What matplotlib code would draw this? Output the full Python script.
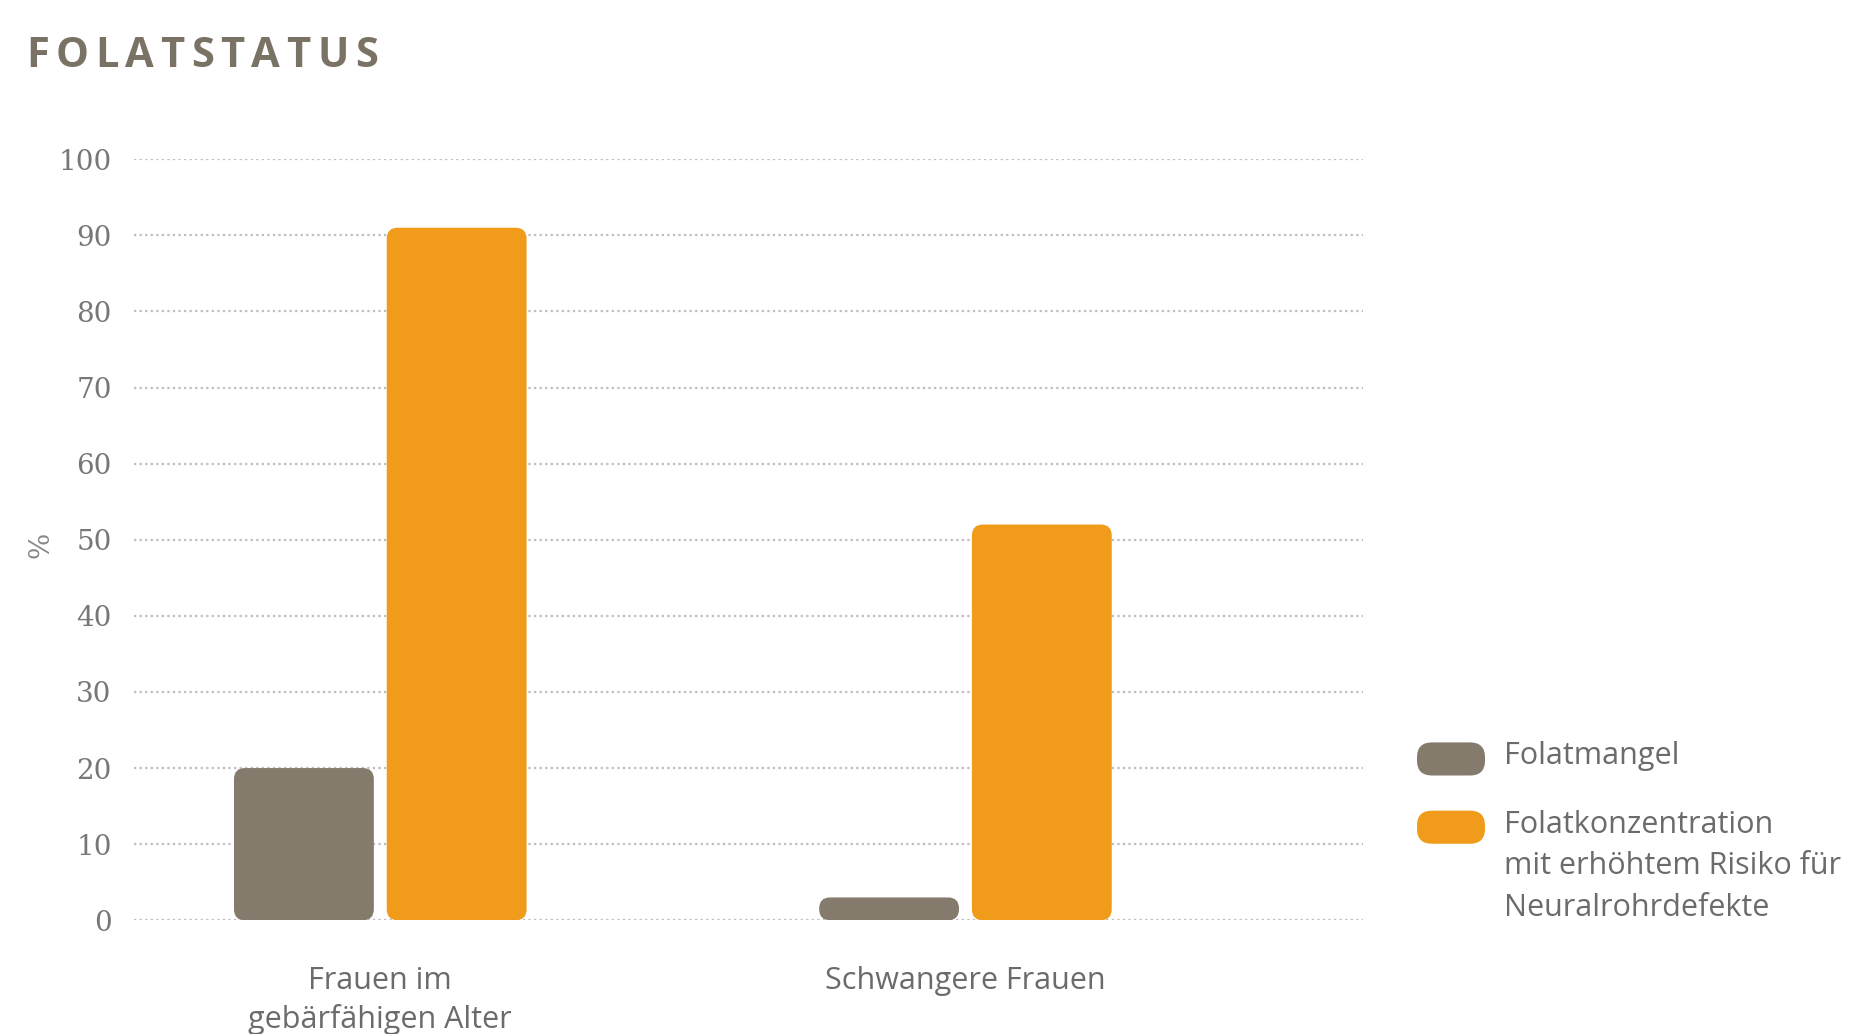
import matplotlib
matplotlib.use("Agg")
import matplotlib.pyplot as plt
from matplotlib.patches import FancyBboxPatch
import numpy as np

# data
groups = ["Frauen im\ngebärfähigen Alter", "Schwangere Frauen"]
folatmangel = [20, 3]
risiko = [91, 52]
series_names = ["Folatmangel", "Folatkonzentration\nmit erhöhtem Risiko für\nNeuralrohrdefekte"]
yticks = list(range(0, 101, 10))

grey = "#857b6c"
orange = "#f09c1a"
text_col = "#6b6b6b"

fig = plt.figure(figsize=(18.6, 10.34), dpi=100)
ax = fig.add_axes([0.072, 0.110, 0.661, 0.736])

x = np.arange(len(groups))
w = 0.239
off = 0.1305

# px per unit, used to keep the corners round
px_x = 0.661 * 1860 / (1.68 + 0.421)
px_y = 0.736 * 1034 / 100
r = 11 / px_x
aspect = (11 / px_y) / r

for vals, dx, col in [(folatmangel, -off, grey), (risiko, off, orange)]:
    bars = ax.bar(x + dx, vals, w, color=col)
    for b in bars:
        b.set_visible(False)
        p = FancyBboxPatch((b.get_x(), b.get_y()), b.get_width(), b.get_height(),
                           boxstyle="round,pad=0,rounding_size=%f" % r,
                           mutation_aspect=aspect, fc=col, ec="none", zorder=3)
        ax.add_patch(p)

ax.set_xlim(-0.421, 1.68)
ax.set_ylim(0, 100)
ax.set_yticks(yticks)
ax.yaxis.grid(True, linestyle=(0, (1, 1.5)), color="#bdbdbd", linewidth=1.6, zorder=0)
ax.set_axisbelow(True)
for s in ax.spines.values():
    s.set_visible(False)
ax.tick_params(axis="y", length=0, pad=16, labelsize=20, labelcolor="#777777")
for lbl in ax.get_yticklabels():
    lbl.set_family("DejaVu Serif")
ax.set_xticks(x)
ax.set_xticklabels(groups, fontsize=22, color=text_col, family="Open Sans", linespacing=1.35)
ax.tick_params(axis="x", length=0, pad=33)

fig.text(0.022, 0.473, "%", rotation=90, fontsize=20, color="#888888",
         family="DejaVu Serif", ha="center", va="center")

# title with letter spacing, one letter at a time
title = "FOLATSTATUS"
renderer = fig.canvas.get_renderer()
xpos = 26
for ch in title:
    t = fig.text(xpos / 1860, 0.945, ch, fontsize=30, fontweight="bold",
                 color="#7a7264", family="Open Sans", ha="left", va="center")
    xpos += t.get_window_extent(renderer).width + 6.5

# legend
leg_y = [0.259, 0.193]
for i, (name, col) in enumerate(zip(series_names, [grey, orange])):
    patch = FancyBboxPatch((1417 / 1860, leg_y[i] - 0.009), 68 / 1860, 0.032,
                           boxstyle="round,pad=0,rounding_size=0.008",
                           mutation_aspect=1860 / 1034,
                           transform=fig.transFigure, fc=col, ec="none")
    fig.patches.append(patch)
    fig.text(1504 / 1860, leg_y[i] + 0.024, name, fontsize=22, color=text_col,
             family="Open Sans", ha="left", va="top", linespacing=1.5)

fig.savefig("out.png", dpi=100, facecolor="white")
